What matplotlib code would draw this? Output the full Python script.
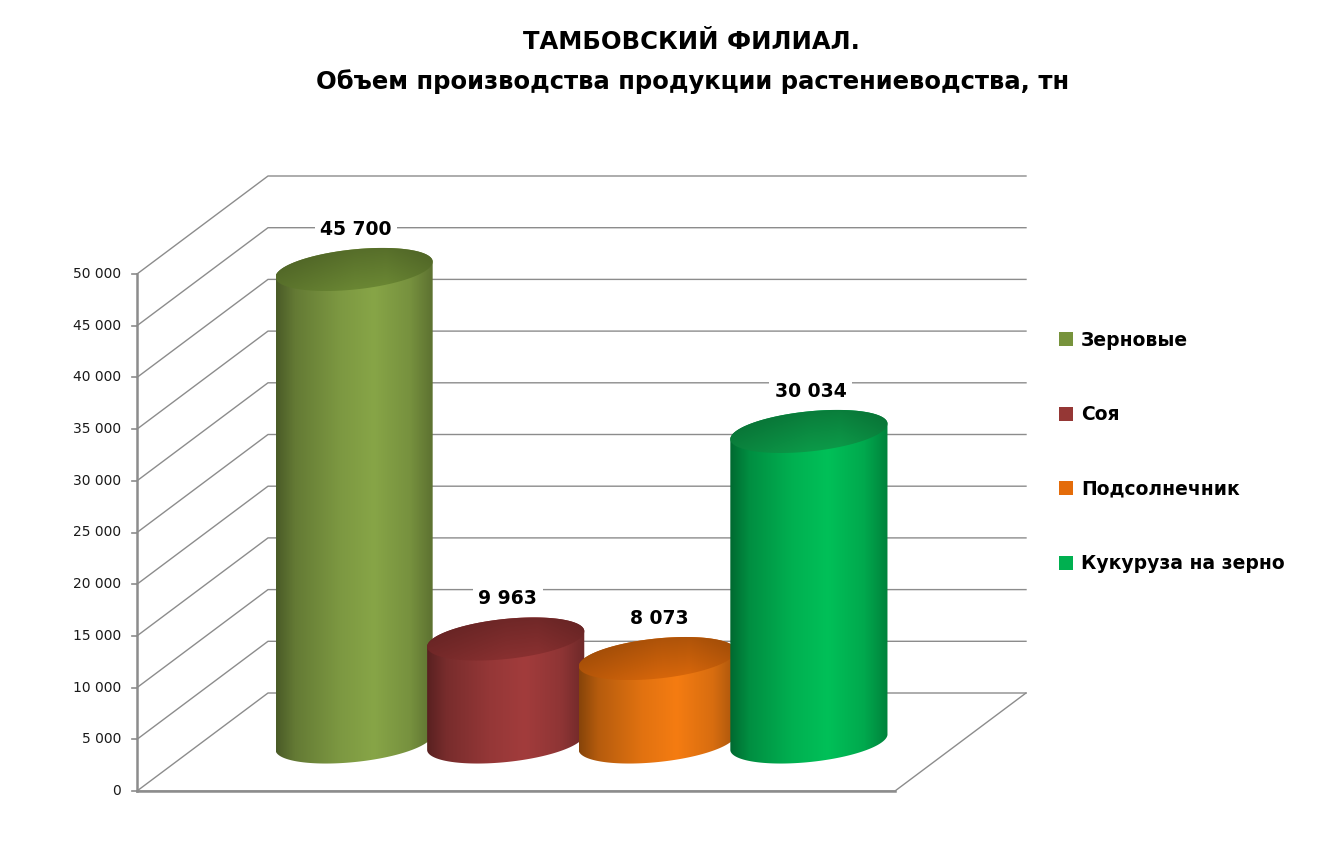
import numpy as np
import matplotlib
import matplotlib.pyplot as plt
from matplotlib.colors import to_rgb
from matplotlib.patches import Polygon, Patch

matplotlib.use('Agg')

# chart data
crops = ['Зерновые', 'Соя', 'Подсолнечник', 'Кукуруза на зерно']
volumes = [45700, 9963, 8073, 30034]
value_labels = ['45 700', '9 963', '8 073', '30 034']
y_ticks = list(range(0, 50001, 5000))
title_lines = ['ТАМБОВСКИЙ ФИЛИАЛ.', 'Объем производства продукции растениеводства, тн']

# colours: legend swatch, lit side of the cylinder, top cap
swatch_colors = ['#77933C', '#953735', '#E46C0A', '#00B050']
body_colors = ['#87A547', '#A23C3C', '#F57C12', '#00C058']
cap_colors = ['#617B2F', '#7D2C2C', '#C35D0A', '#0B8C42']
grid_color = '#8C8C8C'

# layout in pixels, figure is 1321x860 at 100 dpi
W, H = 1321, 860
AXIS_X = 137            # front vertical axis
ZERO_Y = 791            # value 0 on the front plane, from the top
PX_PER_UNIT = 517 / 50000
SLOT = 151.6            # horizontal room for one cylinder
N_SLOTS = 5
DEPTH = (131, 98)       # front plane -> back wall
RX, RY, TILT = 79, 20, np.radians(6)

plt.rcParams['font.family'] = ['DejaVu Sans']

fig = plt.figure(figsize=(W / 100, H / 100), dpi=100)
ax = fig.add_axes([0, 0, 1, 1])
# x in slot units from the front axis, y in tonnes on the front plane
xlim = (-AXIS_X / SLOT, (W - AXIS_X) / SLOT)
ylim = (-(H - ZERO_Y) / PX_PER_UNIT, ZERO_Y / PX_PER_UNIT)
ax.axis('off')

dx = DEPTH[0] / SLOT
dy = DEPTH[1] / PX_PER_UNIT
px_x = 1 / SLOT          # one pixel in x data units
px_y = 1 / PX_PER_UNIT   # one pixel in y data units


def ellipse(xc, yc, t):
    ex, ey = RX * np.cos(t), RY * np.sin(t)
    px = ex * np.cos(TILT) - ey * np.sin(TILT)
    py = ex * np.sin(TILT) + ey * np.cos(TILT)
    return xc + px * px_x, yc + py * px_y


def shaded(color, hprofile, vprofile):
    rgb = np.array(to_rgb(color))
    img = rgb[None, None, :] * hprofile[None, :, None] * vprofile[:, None, None]
    return np.clip(img, 0, 1)


# walls: diagonal from the front axis, then along the back wall
for v in y_ticks:
    ax.plot([0, dx, N_SLOTS + dx], [v, v + dy, v + dy],
            color=grid_color, lw=1.0, zorder=1, solid_joinstyle='round')
# floor front edge, right edge and vertical axis
ax.plot([0, N_SLOTS, N_SLOTS + dx], [0, 0, dy], color=grid_color, lw=1.0, zorder=1)
ax.plot([0, N_SLOTS], [0, 0], color=grid_color, lw=1.8, zorder=2)
ax.plot([0, 0], [0, y_ticks[-1]], color=grid_color, lw=1.8, zorder=2)
for v in y_ticks:
    ax.plot([-5 * px_x, 0], [v, v], color=grid_color, lw=1.2, zorder=2)
    ax.text(-16 * px_x, v, f'{v:,}'.replace(',', ' '), ha='right', va='center',
            fontsize=10, color='#1a1a1a')

# cylinders at mid depth
tx = np.linspace(0, 1, 200)
body_h = np.interp(tx, [0, 0.12, 0.4, 0.62, 0.85, 1], [0.55, 0.74, 0.92, 1.0, 0.88, 0.68])
cap_h = np.interp(tx, [0, 0.5, 0.7, 1], [0.85, 1.0, 1.02, 0.9])
cap_v = np.linspace(0.88, 1.1, 60)
first = (N_SLOTS - len(volumes)) / 2 + 0.5
base = dy / 2
for i, (val, lab) in enumerate(zip(volumes, value_labels)):
    xc = first + i + dx / 2
    top = base + val
    lo = np.linspace(np.pi, 2 * np.pi, 90)
    up = np.linspace(0, np.pi, 90)
    bx, by = ellipse(xc, base, lo)
    ux, uy = ellipse(xc, top, up)
    body = Polygon(np.column_stack([np.r_[bx, ux], np.r_[by, uy]]),
                   closed=True, fc='none', ec='none')
    ax.add_patch(body)
    im = ax.imshow(shaded(body_colors[i], body_h, np.ones(2)),
                   extent=[bx.min(), bx.max(), by.min(), uy.max()],
                   aspect='auto', interpolation='bilinear', zorder=3 + i)
    im.set_clip_path(body)

    cx, cy = ellipse(xc, top, np.linspace(0, 2 * np.pi, 180))
    cap = Polygon(np.column_stack([cx, cy]), closed=True, fc='none', ec='none')
    ax.add_patch(cap)
    im2 = ax.imshow(shaded(cap_colors[i], cap_h, cap_v),
                    extent=[cx.min(), cx.max(), cy.min(), cy.max()],
                    aspect='auto', interpolation='bilinear', zorder=3 + i)
    im2.set_clip_path(cap)

    ax.text(xc + 2 * px_x, top + 40 * px_y, lab, ha='center', va='center', fontsize=13.5,
            fontweight='bold', zorder=10,
            bbox=dict(boxstyle='square,pad=0.3', fc='white', ec='none'))

ax.set_xlim(*xlim)
ax.set_ylim(*ylim)

fig.text(691 / W, 1 - 42 / H, title_lines[0], ha='center', va='center',
         fontsize=17.5, fontweight='bold')
fig.text(693 / W, 1 - 82 / H, title_lines[1], ha='center', va='center',
         fontsize=17.5, fontweight='bold')

handles = [Patch(facecolor=c, edgecolor='none') for c in swatch_colors]
fig.legend(handles, crops, loc='center left', bbox_to_anchor=(1050 / W, 1 - 452 / H),
           frameon=False, borderpad=0, prop={'weight': 'bold', 'size': 13.5},
           handlelength=0.75, handleheight=0.75, handletextpad=0.4, labelspacing=2.96)

fig.savefig('out.png', dpi=100, facecolor='white')
